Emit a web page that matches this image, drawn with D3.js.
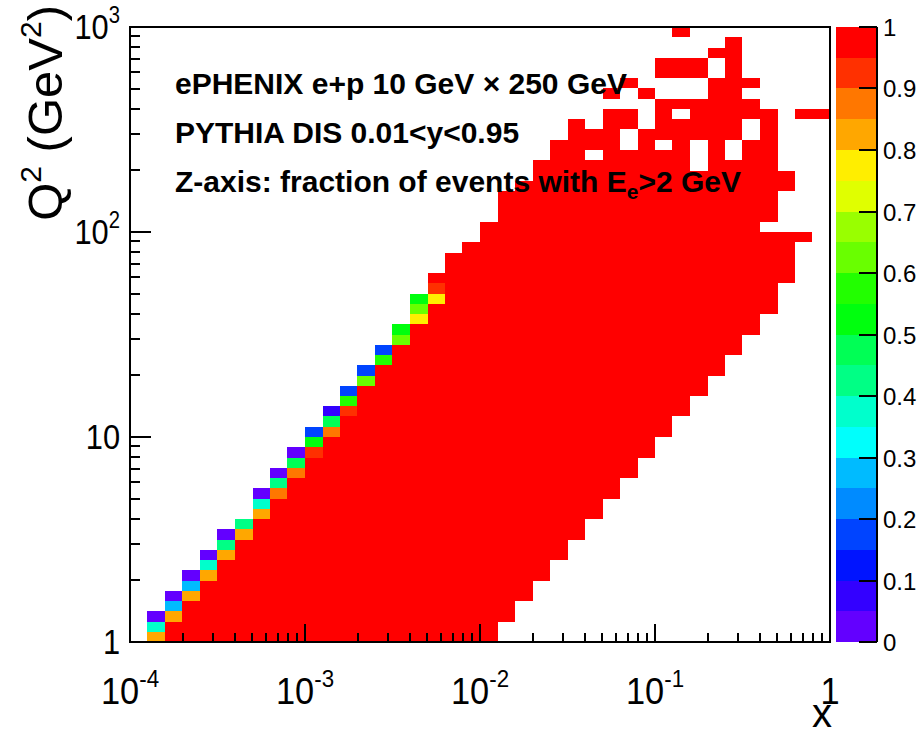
<!DOCTYPE html>
<html><head><meta charset="utf-8">
<script src="https://cdn.jsdelivr.net/npm/d3@7"></script>
<style>
body{margin:0;background:#fff}
svg{display:block}
text{font-family:"Liberation Sans",Arial,Helvetica,sans-serif;fill:#000}
</style>
</head><body>
<svg id="c" width="924" height="736"></svg>
<script>
// ---------------- data ----------------
const xDomain = [1e-4, 1];
const yDomain = [1, 1000];
const nXBins = 40;          // log-spaced x bins (10 per decade)
const nYBins = 60;          // log-spaced Q² bins (20 per decade)
const xTickValues = [1e-4, 1e-3, 1e-2, 1e-1, 1];
const xTickLabels = [["10","-4"],["10","-3"],["10","-2"],["10","-1"],["1",""]];
const yTickValues = [1, 10, 100, 1000];
const yTickLabels = [["1",""],["10",""],["10","2"],["10","3"]];
const zTickValues = [0,0.1,0.2,0.3,0.4,0.5,0.6,0.7,0.8,0.9,1];
const zTickLabels = ["0","0.1","0.2","0.3","0.4","0.5","0.6","0.7","0.8","0.9","1"];
const nZBands = 20;

// lowest / highest filled Q² bin in each x bin (null = empty column)
const colLow  = [null,0,0,0,0,0,0,0,0,0,0,0,0,0,0,0,0,0,0,0,0,2,4,6,8,10,12,14,16,18,20,22,24,26,28,30,32,35,39,51];
const colHigh = [null,2,4,6,8,10,11,14,16,18,20,22,24,26,28,30,33,35,37,38,40,43,44,46,48,50,49,53,54,53,56,59,56,57,58,54,51,45,51,51];
// empty bins inside those spans: [xBin, fromQ2Bin, toQ2Bin]
const holes = [[26,47,47],[27,52,52],[28,52,53],[28,48,49],[29,50,52],[30,53,54],[30,48,48],
  [31,57,58],[31,53,54],[31,51,51],[32,53,54],[32,46,48],[33,55,56],[34,47,48],[35,53,53],
  [35,49,50],[36,40,40],[37,40,43],[38,40,50]];
// bins whose fraction is below 1: [xBin, Q2Bin, fraction]
const edgeCells = [
  [1,0,0.82],[1,1,0.37],[1,2,0.03],
  [2,2,0.82],[2,3,0.27],[2,4,0.03],
  [3,4,0.82],[3,5,0.27],[3,6,0.03],
  [4,6,0.82],[4,7,0.37],[4,8,0.03],
  [5,8,0.82],[5,9,0.42],[5,10,0.03],
  [6,10,0.82],[6,11,0.42],
  [7,12,0.82],[7,13,0.37],[7,14,0.03],
  [8,14,0.87],[8,15,0.42],[8,16,0.03],
  [9,16,0.87],[9,17,0.47],[9,18,0.03],
  [10,18,0.92],[10,19,0.52],[10,20,0.17],
  [11,20,0.87],[11,21,0.47],[11,22,0.07],
  [12,22,0.92],[12,23,0.57],[12,24,0.17],
  [13,25,0.62],[13,26,0.17],
  [14,27,0.57],[14,28,0.17],
  [15,29,0.62],[15,30,0.52],
  [16,31,0.77],[16,32,0.62],[16,33,0.52],
  [17,33,0.77],[17,34,0.92]
];
const infoLines = [
  [{t:"ePHENIX e+p 10 GeV \u00d7 250 GeV"}],
  [{t:"PYTHIA DIS 0.01<y<0.95"}],
  [{t:"Z-axis: fraction of events with E"},{t:"e",sub:true},{t:">2 GeV"}]
];
const xTitle = "x";

// ---------------- layout ----------------
const svg = d3.select("#c");
const F = {l:130, r:830, t:27, b:642};
const x = d3.scaleLog().domain(xDomain).range([F.l, F.r]);
const y = d3.scaleLog().domain(yDomain).range([F.b, F.t]);
const z = d3.scaleLinear().domain([0,1]).range([F.b, F.t]);
const PAL = {x0:836, x1:877};

// ROOT "pretty" palette (hue 280 -> 0), mapped to 20 contour bands
function bandColor(k){
  const ci = Math.floor((k+0.99)*50/nZBands);
  const hue = 280 - (ci+1)*5.6;
  return d3.hsl(hue, 1, 0.5).formatHex();
}
function valColor(v){
  const k = Math.min(nZBands-1, Math.floor(v*nZBands));
  return bandColor(k);
}

const lx0 = Math.log10(xDomain[0]), lx1 = Math.log10(xDomain[1]);
const ly0 = Math.log10(yDomain[0]), ly1 = Math.log10(yDomain[1]);
const xEdge = i => Math.pow(10, lx0 + (lx1-lx0)*i/nXBins);
const yEdge = j => Math.pow(10, ly0 + (ly1-ly0)*j/nYBins);

const holeSet = new Set();
holes.forEach(([c,a,b])=>{ for(let j=a;j<=b;j++) holeSet.add(c+"_"+j); });
const edgeMap = new Map(edgeCells.map(([c,j,v])=>[c+"_"+j, v]));
const cells = [];
colLow.forEach((lo,c)=>{
  if(lo===null) return;
  for(let j=lo;j<=colHigh[c];j++){
    const key=c+"_"+j;
    if(holeSet.has(key)) continue;
    cells.push({c, j, v: edgeMap.has(key)? edgeMap.get(key) : 1});
  }
});

svg.append("g").selectAll("rect").data(cells).join("rect")
  .attr("x", d=>Math.round(x(xEdge(d.c))))
  .attr("width", d=>Math.round(x(xEdge(d.c+1))) - Math.round(x(xEdge(d.c))))
  .attr("y", d=>Math.round(y(yEdge(d.j+1))))
  .attr("height", d=>Math.round(y(yEdge(d.j))) - Math.round(y(yEdge(d.j+1))))
  .attr("fill", d=>valColor(d.v))
  .attr("shape-rendering","crispEdges");

// info text (drawn over the histogram)
infoLines.forEach((parts,i)=>{
  const t = svg.append("text").attr("x",175).attr("y",94+i*49).attr("font-size",30).attr("font-weight","bold");
  let prevSub = false;
  parts.forEach(p=>{
    const dy = p.sub ? 7 : (prevSub ? -7 : 0);
    t.append("tspan").attr("font-size", p.sub?21:null).attr("dy",dy).text(p.t);
    prevSub = !!p.sub;
  });
});

// frame
const ax = svg.append("g").attr("stroke","#000").attr("shape-rendering","crispEdges");
ax.append("rect").attr("x",F.l).attr("y",F.t).attr("width",F.r-F.l).attr("height",F.b-F.t)
  .attr("fill","none").attr("stroke-width",1.5);
ax.append("line").attr("x1",F.l).attr("x2",F.r).attr("y1",F.b).attr("y2",F.b).attr("stroke-width",2.5);
ax.append("line").attr("x1",F.l).attr("x2",F.l).attr("y1",F.t).attr("y2",F.b).attr("stroke-width",2.5);

// log ticks (inside the frame)
function logTicks(dom){
  const out=[];
  for(let e=Math.log10(dom[0]); e<Math.log10(dom[1])+1e-9; e++){
    for(let m=1;m<=9;m++){
      const v=m*Math.pow(10,e);
      if(v>dom[1]*1.0000001) break;
      out.push({v, major:m===1});
    }
  }
  return out;
}
logTicks(xDomain).forEach(t=>{
  const px = Math.round(x(t.v));
  ax.append("line").attr("x1",px).attr("x2",px).attr("y1",F.b).attr("y2",F.b-(t.major?18:9)).attr("stroke-width",2);
});
logTicks(yDomain).forEach(t=>{
  const py = Math.round(y(t.v));
  ax.append("line").attr("x1",F.l).attr("x2",F.l+(t.major?21:10)).attr("y1",py).attr("y2",py).attr("stroke-width",2);
});

// tick labels (slightly condensed, like the reference)
const fsTick = 37, fsSup = 24;
xTickValues.forEach((v,i)=>{
  const [b,s]=xTickLabels[i];
  const g = svg.append("g").attr("transform",`translate(${x(v)},704) scale(0.93,1)`);
  const t = g.append("text").attr("text-anchor","middle").attr("font-size",fsTick);
  t.append("tspan").text(b);
  if(s) t.append("tspan").attr("font-size",fsSup).attr("dy",-17).text(s);
});
yTickValues.forEach((v,i)=>{
  const [b,s]=yTickLabels[i];
  const g = svg.append("g").attr("transform",`translate(120,${y(v)+12}) scale(0.88,1)`);
  const t = g.append("text").attr("text-anchor","end").attr("font-size",35);
  t.append("tspan").text(b);
  if(s) t.append("tspan").attr("font-size",23).attr("dy",-16).text(s);
});

// axis titles
svg.append("text").attr("x",F.r+2).attr("y",727).attr("text-anchor","end").attr("font-size",40).text(xTitle);
const yt = svg.append("text").attr("transform","translate(62,5) rotate(-90)")
  .attr("text-anchor","end").attr("font-size",49);
yt.append("tspan").text("Q");
yt.append("tspan").attr("font-size",30).attr("dy",-21).text("2");
yt.append("tspan").attr("dy",21).text(" (GeV");
yt.append("tspan").attr("font-size",30).attr("dy",-21).text("2");
yt.append("tspan").attr("dy",21).text(")");

// palette
const bands = d3.range(nZBands);
svg.append("g").selectAll("rect").data(bands).join("rect")
  .attr("x",PAL.x0).attr("width",PAL.x1-PAL.x0)
  .attr("y",k=>Math.round(z((k+1)/nZBands)))
  .attr("height",k=>Math.round(z(k/nZBands))-Math.round(z((k+1)/nZBands)))
  .attr("fill",k=>bandColor(k)).attr("shape-rendering","crispEdges");
const pg = svg.append("g").attr("stroke","#000").attr("shape-rendering","crispEdges");
pg.append("line").attr("x1",PAL.x1).attr("x2",PAL.x1).attr("y1",F.t).attr("y2",F.b).attr("stroke-width",2);
zTickValues.forEach((v,i)=>{
  const py=Math.round(z(v));
  pg.append("line").attr("x1",PAL.x1-18).attr("x2",PAL.x1).attr("y1",py).attr("y2",py).attr("stroke-width",2);
  svg.append("text").attr("x",883).attr("y",py+9).attr("font-size",24).text(zTickLabels[i]);
});
</script>
</body></html>
